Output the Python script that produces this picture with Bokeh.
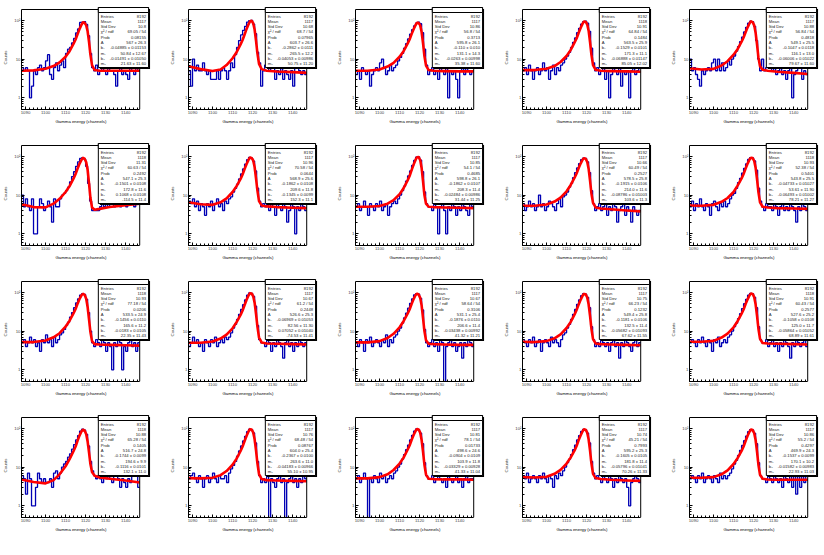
import math
from bokeh.plotting import figure
from bokeh.layouts import gridplot
from bokeh.models import (ColumnDataSource, LabelSet, BoxAnnotation, Range1d, Title,
                          SingleIntervalTicker, CustomJSTickFormatter)
from bokeh.core.properties import value
from bokeh.embed import file_html
from bokeh.resources import INLINE

# ---------------- data ----------------
channels = list(range(1088, 1147))          # bin low edges, width 1 channel
x_ticks_interval = 10
y_low, y_high = 0.5, 190.0
x_title = "Gamma energy (channels)"
y_title = "Counts"

counts = [
    [6,5,6,5,1,2,5,4,6,7,5,6,9,13,4,3,6,8,5,7, 9,6,14,18,20,26,34,47,60,88,90,92,78,40,14,6,5, 7,4,5,6,5,4,6,5,5,4,2,5,6,4,5,4,3,6,5,4,7,5],
    [5,2,10,5,7,5,5,8,5,4,5,3,3,3,5,3,5,6,5,3, 5,8,6,13,20,30,42,55,70,90,98,100,80,45,15,8,2, 5,7,8,5,6,7,3,5,4,6,3,5,4,3,5,2,6,10,5,4,5,4],
    [4,5,3,6,5,4,5,2,4,5,6,5,8,10,6,4,5,7,5,6, 7,9,11,14,19,25,33,44,57,72,85,90,82,48,18,7,4, 5,6,4,5,3,6,5,4,6,1,5,4,5,3,1,5,6,4,8,5,4,5],
    [5,6,4,7,5,3,5,6,4,5,8,5,6,3,5,7,4,6,5,7, 8,10,12,15,20,27,35,48,62,80,92,95,84,52,19,8,5, 6,4,5,7,3,5,1,4,6,5,4,6,2,5,4,5,1,5,6,4,5,6],
    [10,5,6,4,3,2,5,4,5,6,5,8,10,5,10,5,8,5,6,9, 7,10,12,16,21,28,37,50,66,84,95,92,70,30,10,5,10, 5,6,7,8,5,6,4,5,6,4,5,3,5,6,1,4,5,8,6,3,5,4],
    [10,5,8,5,4,8,1,1,5,8,6,4,5,7,5,2,8,5,5,8, 10,11,13,16,22,30,40,55,72,88,92,85,55,20,7,4,4, 4,4,5,6,5,7,5,6,8,5,6,7,5,6,8,5,7,6,10,5,6,6],
    [7,6,8,5,7,4,6,5,3,6,5,7,4,6,8,5,6,4,7,6, 8,9,12,15,19,26,35,47,63,82,94,90,75,42,15,7,5, 6,5,7,4,6,5,3,6,5,4,7,5,2,4,6,5,1,5,4,6,5,4],
    [5,6,4,5,7,5,3,6,5,4,6,5,7,4,5,6,3,5,6,7, 6,8,10,13,17,23,31,42,58,78,95,97,80,40,12,6,5, 5,4,6,5,1,5,6,4,1,5,4,6,5,3,5,4,6,5,4,3,6,5],
    [6,4,5,7,5,6,4,5,10,5,6,4,5,7,6,5,4,6,8,5, 9,10,12,16,20,28,38,50,65,82,90,88,72,38,13,6,4, 5,6,4,5,6,3,5,4,6,5,2,4,5,6,3,5,4,2,5,4,3,4],
    [5,7,4,6,5,8,5,4,6,5,3,6,7,5,4,6,5,7,5,6, 8,10,11,15,21,27,37,49,64,83,93,91,76,44,15,7,5, 4,6,5,5,4,6,5,3,5,6,4,5,4,6,5,4,2,5,4,6,5,4],
    [5,6,4,5,7,5,6,4,5,3,6,5,8,5,6,4,7,5,6,8, 9,11,14,17,23,30,40,53,68,85,92,88,66,30,10,5,4, 6,5,4,6,5,3,5,4,1,5,4,6,5,1,4,3,5,6,4,5,3,5],
    [4,5,7,5,6,4,5,3,6,5,4,6,5,7,4,5,6,5,7,6, 7,9,12,15,20,27,36,48,64,84,96,94,78,44,14,6,5, 5,4,6,5,3,5,4,6,5,4,2,5,6,4,5,3,5,4,6,5,4,5],
    [5,4,6,5,3,6,5,7,4,5,6,5,4,6,5,8,4,6,5,7, 8,10,12,16,22,29,39,52,68,86,93,90,70,35,11,5,4, 5,6,4,5,3,6,5,0,4,5,6,4,5,3,4,5,2,5,4,6,5,4],
    [6,5,4,6,5,7,4,5,6,3,5,6,5,4,7,5,6,5,4,6, 8,9,12,15,20,27,36,49,64,82,92,90,74,40,13,6,4, 5,4,6,5,4,5,3,5,6,4,5,2,5,4,6,5,4,3,5,6,4,5],
    [5,6,5,4,6,5,7,5,4,6,5,3,6,5,7,4,5,6,5,7, 8,10,13,16,21,28,38,51,66,84,94,92,74,40,13,6,5, 5,6,4,5,6,4,5,3,5,4,6,5,4,2,5,4,6,5,4,5,6,4],
    [6,5,2,7,5,1,1,3,7,5,4,5,4,4,5,3,7,8,5,7, 10,12,14,18,22,29,38,50,65,85,95,90,70,35,14,8,6, 5,6,5,4,6,5,7,5,4,6,7,5,3,5,4,3,5,4,6,7,8,3],
    [5,6,7,5,4,6,5,3,5,6,4,5,7,5,4,6,5,5,6,4, 7,9,11,14,19,26,35,47,62,82,95,93,76,42,14,6,4, 5,4,6,0,5,4,3,5,6,4,5,0,4,5,6,4,5,3,5,4,6,5],
    [5,6,4,5,7,5,0,5,4,6,5,4,7,5,6,4,5,6,5,7, 8,10,12,16,21,28,37,50,66,85,96,93,75,40,13,6,5, 5,6,4,5,6,5,4,5,3,6,5,4,5,6,4,5,3,5,6,4,5,5],
    [6,5,7,4,5,6,5,4,6,5,7,5,4,6,5,3,6,5,7,6, 8,10,13,16,21,28,37,50,65,83,94,92,75,42,14,7,5, 6,5,4,6,5,4,6,5,3,5,4,6,5,4,5,3,1,4,5,6,5,4],
    [5,6,5,4,6,5,7,4,5,6,5,4,6,5,4,7,5,6,5,6, 7,9,12,15,20,27,36,48,63,82,93,91,74,40,13,6,5, 5,4,6,5,4,6,5,4,5,3,6,5,4,6,3,7,2,8,3,7,4,6],
]

fit_x = [1088, 1094, 1100, 1104, 1107, 1110, 1112, 1114, 1115, 1116, 1117, 1118, 1118.7,
         1119.5, 1120.3, 1121, 1121.7, 1122.4, 1123.2, 1124.5, 1127, 1132, 1140, 1147]
fit_y = [
    [5.0,5.1,5.6,6.6,8.2,11.5,16,25,32,44,60,78,89,86,74,52,28,13,7,5.2,5.0,5.0,5.0,5.0],
    [6.5,5.5,4.9,5.4,7,10.5,15,24,31,43,60,80,94,97,84,58,30,14,7.5,5.5,5.0,4.8,4.6,4.4],
    [5.0,5.0,5.4,6.4,8.0,11.5,16,25,32,44,59,76,86,86,74,50,26,12,6.8,5.2,5.0,4.9,4.8,4.8],
    [5.2,5.2,5.6,6.6,8.4,12,17,27,34,47,63,82,93,92,78,54,28,13,7,5.3,5.0,4.9,4.8,4.7],
    [5.8,5.4,5.6,6.8,8.8,13,18,28,36,49,66,84,94,90,74,48,24,11,6.5,5.3,5.0,4.7,4.4,4.1],
    [5.8,4.9,4.8,6.0,8.0,12,17,27,35,48,65,82,91,87,70,45,20,8.5,4.8,4.2,4.4,4.9,5.5,6.0],
    [6.5,5.8,5.6,6.5,8.2,12,17,26,34,47,63,82,93,91,78,53,27,13,7,5.4,5.1,4.9,4.7,4.6],
    [5.0,5.0,5.2,6.0,7.4,10.5,15,24,31,44,61,82,95,96,80,50,23,10,6,5.0,4.9,4.8,4.7,4.6],
    [5.3,5.3,5.7,6.8,8.6,12.5,18,28,36,49,65,82,89,87,72,48,24,11,6.3,4.8,4.5,4.3,4.0,3.8],
    [5.4,5.3,5.6,6.7,8.4,12,17.5,27,35,48,65,83,92,90,76,51,26,12,6.5,5.0,4.8,4.6,4.5,4.4],
    [5.2,5.2,5.7,6.9,8.8,13,18.5,29,37,51,68,85,91,86,68,42,20,9.5,5.5,4.6,4.5,4.4,4.3,4.2],
    [5.0,5.0,5.4,6.4,8.1,11.8,17,26,34,47,64,84,95,93,79,54,28,13,6.8,5.1,4.8,4.7,4.6,4.5],
    [5.1,5.1,5.5,6.6,8.5,12.5,18,28,36,50,67,85,92,88,72,46,22,10,5.8,4.7,4.6,4.5,4.4,4.4],
    [5.3,5.2,5.5,6.5,8.2,12,17,27,35,48,64,82,91,89,74,49,25,11.5,6.2,4.8,4.6,4.5,4.4,4.3],
    [5.3,5.3,5.6,6.8,8.6,12.5,18,28,36,50,66,84,93,91,75,49,25,11.5,6.3,4.9,4.8,4.7,4.6,4.5],
    [4.8,4.1,3.8,4.6,6.5,10.5,16,26,34,48,66,84,92,88,70,46,24,12,7.5,6.0,5.4,5.0,4.5,4.0],
    [5.2,5.1,5.3,6.2,7.9,11.5,16.5,26,34,47,64,84,95,93,78,52,27,12.5,6.6,4.9,4.6,4.5,4.4,4.3],
    [5.1,5.1,5.5,6.5,8.4,12.3,17.5,28,36,50,67,86,96,93,77,50,25,11.5,6.4,5.0,4.9,4.8,4.8,4.7],
    [5.5,5.4,5.6,6.7,8.5,12.3,17.5,27,35,49,65,84,94,92,77,52,27,12.5,6.7,5.2,4.9,4.7,4.5,4.4],
    [5.3,5.3,5.5,6.5,8.2,12,17,26,34,47,64,83,93,90,75,50,25,11.5,6.3,5.0,4.8,4.7,4.7,4.7],
]

stat_entries = ["8192"] * 20
stat_mean = ["1117","1117","1117","1118","1117","1118","1117","1117","1117","1118",
             "1118","1117","1117","1117","1118","1118","1117","1117","1117","1117"]
stat_std = ["10.8","10.68","10.86","10.91","10.88","11.31","10.96","10.85","10.66","10.93",
            "10.93","10.67","10.67","10.75","10.91","10.88","10.76","10.81","10.74","10.86"]
stat_chi2 = ["69.05 / 54","68.7 / 54","56.8 / 54","64.84 / 54","56.84 / 54",
             "60.63 / 54","70.58 / 54","54.1 / 54","60.49 / 54","52.38 / 54",
             "77.18 / 54","61.2 / 54","58.64 / 54","66.23 / 54","60.43 / 54",
             "65.28 / 54","68.48 / 54","78.1 / 54","45.21 / 54","55.2 / 54"]
stat_prob = ["0.08155","0.07965","0.3713","0.1484","0.4818","0.2492","0.0644","0.4685","0.2527","0.5401",
             "0.0206","0.2448","0.3106","0.1232","0.2577","0.1405","0.08767","0.01733","0.7993","0.4297"]
stat_A = ["567 ± 26.3","603.7 ± 26.6","595.8 ± 26.1","563.5 ± 25.9","549.1 ± 25.5",
          "547.1 ± 25.3","568.9 ± 25.6","598.8 ± 26.1","578.5 ± 25.8","543.8 ± 25.5",
          "533.5 ± 24.9","526.6 ± 25.3","531.1 ± 25.4","549.4 ± 25.8","527.6 ± 25.2",
          "516.7 ± 24.8","604.0 ± 25.4","498.6 ± 24.6","595.2 ± 25.3","469.9 ± 24.3"]
stat_b1 = ["-0.04885 ± 0.01153","-0.2862 ± 0.0111","-0.110 ± 0.010","-0.1529 ± 0.0101","-0.1047 ± 0.0118",
           "-0.1501 ± 0.0108","-0.1862 ± 0.0108","-0.1862 ± 0.0107","-0.1915 ± 0.0106","-0.04733 ± 0.01027",
           "-0.1456 ± 0.0110","-0.06969 ± 0.01053","-0.1876 ± 0.0110","-0.1181 ± 0.0106","-0.1058 ± 0.0108",
           "-0.1744 ± 0.0099","-0.2367 ± 0.0100","-0.0904 ± 0.0109","-0.1605 ± 0.0105","-0.1537 ± 0.0099"]
stat_m1 = ["50.84 ± 12.67","265.5 ± 12.2","131.1 ± 14.3","171.3 ± 11.1","116.1 ± 13.0",
           "172.8 ± 11.6","209.6 ± 11.8","208.3 ± 11.4","214.0 ± 11.6","53.61 ± 11.90",
           "165.6 ± 11.2","82.56 ± 11.30","206.6 ± 11.4","132.5 ± 11.4","125.0 ± 11.7",
           "194.6 ± 9.9","263.6 ± 11.0","103.9 ± 11.8","181.8 ± 11.4","170.1 ± 10.2"]
stat_b2 = ["-0.01491 ± 0.01050","-0.04053 ± 0.00986","-0.0263 ± 0.00998","-0.06888 ± 0.01147","-0.06006 ± 0.01022",
           "0.1068 ± 0.0108","-0.1345 ± 0.0099","-0.02484 ± 0.00986","-0.08786 ± 0.01003","-0.06493 ± 0.01002",
           "-0.0183 ± 0.0105","0.07052 ± 0.01040","-0.03438 ± 0.00992","-0.05682 ± 0.01093","-0.05864 ± 0.01052",
           "-0.1116 ± 0.0101","-0.04183 ± 0.00966","-0.03329 ± 0.00928","-0.05796 ± 0.01041","-0.01582 ± 0.00983"]
stat_m2 = ["21.63 ± 11.60","50.75 ± 11.20","35.38 ± 11.60","85.05 ± 12.02","79.67 ± 11.60",
           "-114.5 ± 11.4","152.3 ± 11.1","31.44 ± 11.25","103.6 ± 11.3","78.21 ± 11.27",
           "22.35 ± 11.43","-74.53 ± 11.41","41.32 ± 11.21","67.62 ± 11.55","68.89 ± 11.61",
           "132.1 ± 11.0","55.10 ± 10.95","41.33 ± 11.04","70.26 ± 11.33","22.93 ± 11.03"]

stat_names = ["Entries", "Mean", "Std Dev", "χ² / ndf", "Prob", "A", "b₁", "m₁", "b₂", "m₂"]

# ---------------- layout ----------------
COL_W = [167, 167, 167, 167, 156]
ROW_H = [136, 136, 136, 147]
FL, FT, FW, FH = 19, 9, 120, 100      # histogram frame inside each cell
EXT_R, EXT_T = 134, 4                 # drawing area widened to hold the stats box
X0, X1 = channels[0], channels[-1] + 1
PXX = FW / (X1 - X0)
LT, LB = math.log10(y_high), math.log10(y_low)
DPY = (LT - LB) / FH
FONT = "Liberation Sans"


def xd(px):
    return X0 + px / PXX


def yd(py):
    return 10 ** (LT - py * DPY)


yfmt = CustomJSTickFormatter(code="""
const l = Math.log10(tick);
const e = Math.round(l);
if (Math.abs(l - e) > 1e-6) return "";
if (e == 0) return "1";
if (e == 1) return "10";
if (e == 2) return "10\u00b2";
return "";
""")


def make_panel(i, w, h):
    top_b = FT - EXT_T
    p = figure(width=w, height=h, x_range=Range1d(X0, xd(EXT_R)), y_range=Range1d(y_low, yd(-EXT_T)),
               y_axis_type="log", output_backend="svg", toolbar_location=None,
               min_border_left=FL, min_border_top=top_b, min_border_right=w - FL - EXT_R,
               min_border_bottom=h - top_b - (FH + EXT_T), background_fill_color="white",
               border_fill_color="white")
    p.outline_line_color = None
    p.grid.visible = False
    p.xaxis.ticker = SingleIntervalTicker(interval=x_ticks_interval, num_minor_ticks=5)
    p.xaxis.bounds = (X0, X1)
    p.yaxis.bounds = (y_low, y_high)
    p.yaxis.formatter = yfmt
    for ax in (p.xaxis[0], p.yaxis[0]):
        ax.major_tick_in = 3
        ax.major_tick_out = 0
        ax.minor_tick_in = 2
        ax.minor_tick_out = 0
        ax.major_label_text_font = FONT
        ax.major_label_text_font_size = "4.3px"
        ax.major_label_standoff = 1
        ax.axis_line_color = "black"
        ax.major_tick_line_color = "black"
        ax.minor_tick_line_color = "black"
    p.yaxis.axis_label = y_title
    p.yaxis.axis_label_text_font = FONT
    p.yaxis.axis_label_text_font_size = "4.4px"
    p.yaxis.axis_label_text_font_style = "normal"
    p.yaxis.axis_label_standoff = 3
    p.add_layout(Title(text=x_title, align="left", offset=34, standoff=0,
                       text_font=FONT, text_font_size="4.3px", text_font_style="normal",
                       text_color="black"), "below")

    c = counts[i]
    xs = channels + [X1]
    ys = [max(v, 0.02) for v in c] + [max(c[-1], 0.02)]
    p.step(xs, ys, mode="after", line_color="#0000b4", line_width=1.3)
    p.line(fit_x, fit_y[i], line_color="#ff0000", line_width=2.6, line_join="round")

    # histogram frame
    p.add_layout(BoxAnnotation(left=X0, right=X1, top=y_high, bottom=y_low,
                               fill_alpha=0.0, line_color="black", line_width=1, line_alpha=1.0))

    # stat box (positions relative to histogram frame, in pixels)
    bl, br, bt, bb = 78, 129, -2, 58
    p.add_layout(BoxAnnotation(left=xd(bl + 1.5), right=xd(br + 1.5), top=yd(bt + 1.5), bottom=yd(bb + 1.5),
                               fill_color="black", fill_alpha=1.0, line_color=None))
    p.add_layout(BoxAnnotation(left=xd(bl), right=xd(br), top=yd(bt), bottom=yd(bb),
                               fill_color="white", fill_alpha=1.0, line_color="black", line_width=1, line_alpha=1.0))
    p.add_layout(BoxAnnotation(left=xd(bl), right=xd(br), top=yd(bt), bottom=yd(bt + 5),
                               fill_color="white", fill_alpha=1.0, line_color="black", line_width=1, line_alpha=1.0))
    vals = [stat_entries[i], stat_mean[i], stat_std[i], stat_chi2[i], stat_prob[i],
            stat_A[i], stat_b1[i], stat_m1[i], stat_b2[i], stat_m2[i]]
    ypx = [bt + 8.5 + k * 5.3 for k in range(len(vals))]
    src = ColumnDataSource(dict(xl=[xd(bl + 2.5)] * len(vals), xr=[xd(br - 2.5)] * len(vals),
                                y=[yd(v) for v in ypx], name=stat_names, val=vals))
    p.add_layout(LabelSet(x="xl", y="y", text="name", source=src, text_align="left",
                          text_baseline="middle", text_font_size=value("4.2px"), text_font=value(FONT),
                          text_color="#222222"))
    p.add_layout(LabelSet(x="xr", y="y", text="val", source=src, text_align="right",
                          text_baseline="middle", text_font_size=value("4.2px"), text_font=value(FONT),
                          text_color="#222222"))
    return p


rows = []
k = 0
for r, h in enumerate(ROW_H):
    row_figs = []
    for cidx, w in enumerate(COL_W):
        row_figs.append(make_panel(k, w, h))
        k += 1
    rows.append(row_figs)

grid = gridplot(rows, toolbar_location=None)
open("out.html", "w").write(file_html(grid, INLINE))
